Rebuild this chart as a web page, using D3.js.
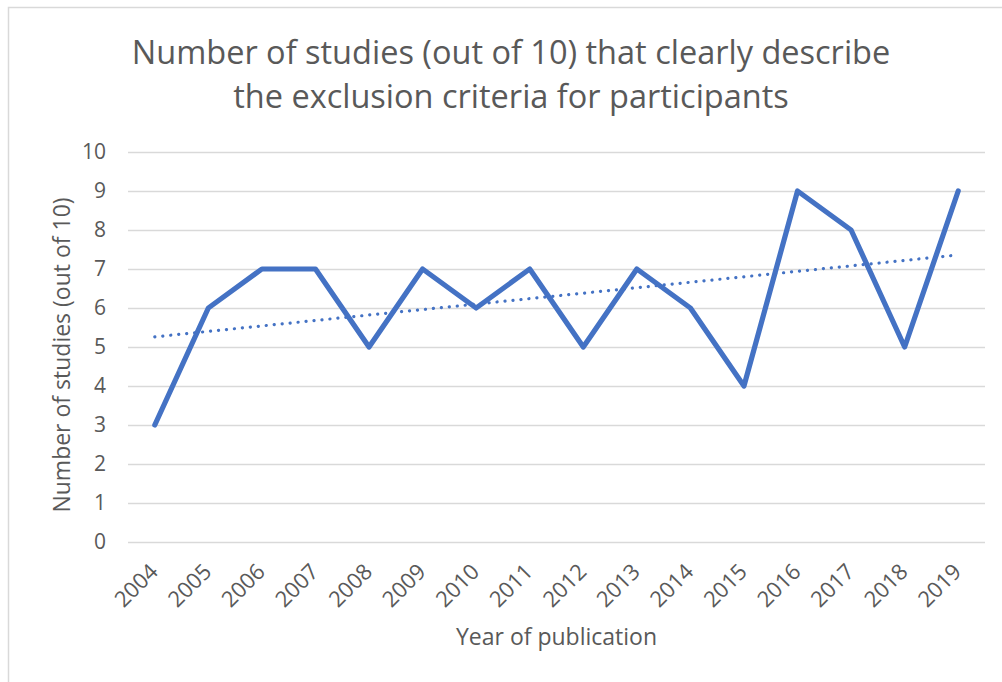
<!DOCTYPE html>
<html>
<head>
<meta charset="utf-8">
<script src="https://cdn.jsdelivr.net/npm/d3@7"></script>
<style>
  html, body { margin: 0; padding: 0; background: #fff; }
  svg { display: block; }
  text { font-family: "Open Sans", "Noto Sans", sans-serif; fill: #595959; }
</style>
</head>
<body>
<svg id="chart" width="1002" height="682"></svg>
<script>
const years = ["2004","2005","2006","2007","2008","2009","2010","2011","2012","2013","2014","2015","2016","2017","2018","2019"];
const studies = [3, 6, 7, 7, 5, 7, 6, 7, 5, 7, 6, 4, 9, 8, 5, 9];
const trendEnds = [5.26, 7.36];
const yTicks = [0,1,2,3,4,5,6,7,8,9,10];
const titleLines = ["Number of studies (out of 10) that clearly describe", "the exclusion criteria for participants"];
const xTitle = "Year of publication";
const yTitle = "Number of studies (out of 10)";

const svg = d3.select("#chart");
const plot = { left: 128, right: 985, top: 152, bottom: 542 };
const blue = "#4472C4";

// outer border
svg.append("rect").attr("x", 8.5).attr("y", 7.5).attr("width", 1010).attr("height", 700)
  .attr("fill", "none").attr("stroke", "#d9d9d9").attr("stroke-width", 1.5);

const x = d3.scalePoint().domain(years).range([plot.left, plot.right]).padding(0.5);
const y = d3.scaleLinear().domain([0, 10]).range([plot.bottom, plot.top]);

// gridlines + y labels
const yAxis = d3.axisLeft(y).tickValues(yTicks).tickSize(-(plot.right - plot.left)).tickPadding(22).tickFormat(d3.format("d"));
const gy = svg.append("g").attr("transform", `translate(${plot.left},0)`).call(yAxis);
gy.select(".domain").remove();
gy.selectAll(".tick line").attr("stroke", "#d9d9d9").attr("stroke-width", 1.3);
gy.selectAll(".tick text").attr("font-size", 21).attr("fill", "#595959")
  .attr("font-family", "'Open Sans', sans-serif");

// x axis labels
const xAxis = d3.axisBottom(x).tickSize(0).tickPadding(0);
const gx = svg.append("g").attr("transform", `translate(0,${plot.bottom})`).call(xAxis);
gx.select(".domain").remove();
gx.selectAll(".tick text")
  .attr("font-size", 22).attr("fill", "#595959").attr("font-family", "'Open Sans', sans-serif")
  .attr("text-anchor", "end").attr("dy", null).attr("y", 0)
  .attr("transform", "translate(4,31) rotate(-45)");

// trendline
svg.append("line")
  .attr("x1", x(years[0])).attr("y1", y(trendEnds[0]))
  .attr("x2", x(years[years.length - 1])).attr("y2", y(trendEnds[1]))
  .attr("stroke", blue).attr("stroke-width", 3.2).attr("stroke-linecap", "round")
  .attr("stroke-dasharray", "0.1 7.9");

// line
const line = d3.line().x((d, i) => x(years[i])).y(d => y(d));
svg.append("path").datum(studies).attr("d", line)
  .attr("fill", "none").attr("stroke", blue).attr("stroke-width", 5.2)
  .attr("stroke-linejoin", "round").attr("stroke-linecap", "round");

// title
svg.append("g").selectAll("text").data(titleLines).join("text")
  .attr("x", 511).attr("y", (d, i) => 64 + i * 44)
  .attr("text-anchor", "middle").attr("font-size", 32.5).text(d => d);

// axis titles
svg.append("text").attr("x", (plot.left + plot.right) / 2).attr("y", 645)
  .attr("text-anchor", "middle").attr("font-size", 23).text(xTitle);
svg.append("text").attr("transform", `translate(70,355) rotate(-90)`)
  .attr("text-anchor", "middle").attr("font-size", 23).text(yTitle);
</script>
</body>
</html>
